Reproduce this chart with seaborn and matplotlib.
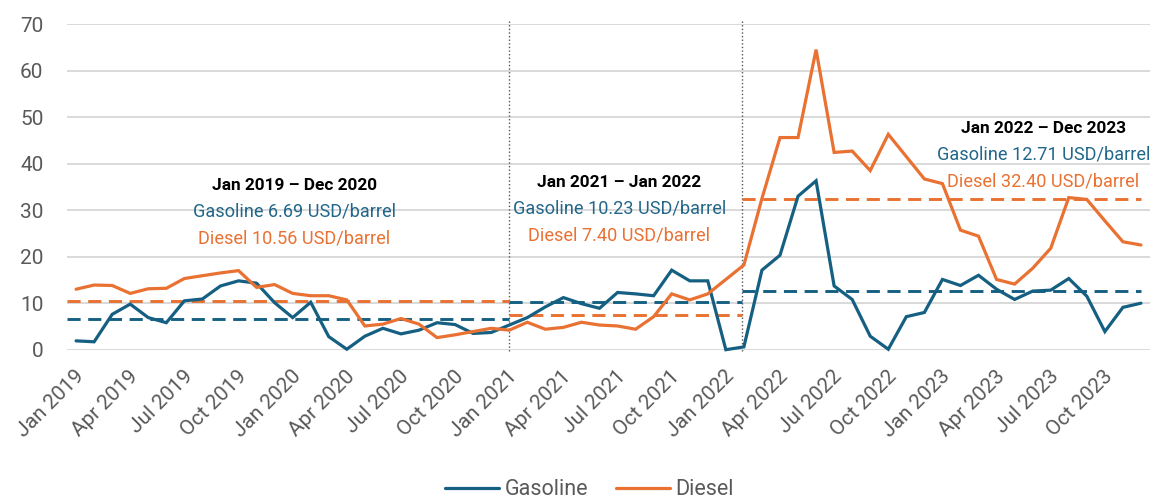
import numpy as np
import pandas as pd
import matplotlib
matplotlib.use("Agg")
import matplotlib.pyplot as plt
import matplotlib.transforms as mtransforms
import seaborn as sns

# ---------------- data ----------------
months = pd.date_range("2019-01-01", "2023-12-01", freq="MS")
month_labels = [d.strftime("%b %Y") for d in months]

gasoline = [1.9, 1.7, 7.6, 9.8, 6.9, 5.8, 10.5, 10.9, 13.7, 14.8, 14.3, 10.1,
            6.9, 10.2, 2.8, 0.1, 2.9, 4.6, 3.4, 4.2, 5.8, 5.4, 3.5, 3.7,
            5.3, 6.9, 9.2, 11.2, 9.9, 8.9, 12.3, 12.0, 11.6, 17.1, 14.8, 14.8,
            0.0, 0.6, 17.1, 20.3, 33.0, 36.3, 13.7, 10.8, 2.9, 0.1, 7.1, 8.0,
            15.1, 13.8, 16.0, 13.0, 10.8, 12.6, 12.8, 15.3, 11.5, 3.9, 9.1, 10.0]

diesel = [13.0, 13.9, 13.8, 12.1, 13.1, 13.2, 15.3, 15.9, 16.5, 17.0, 13.4, 14.0,
          12.1, 11.6, 11.6, 10.7, 5.1, 5.5, 6.7, 5.5, 2.6, 3.2, 3.9, 4.6,
          4.2, 5.9, 4.4, 4.8, 5.9, 5.3, 5.1, 4.4, 7.1, 12.0, 10.7, 12.0,
          15.1, 18.2, 32.5, 45.6, 45.6, 64.5, 42.4, 42.7, 38.5, 46.3, 41.5, 36.7,
          35.7, 25.7, 24.4, 15.1, 14.1, 17.5, 21.8, 32.7, 32.3, 27.7, 23.2, 22.5]

series_names = ["Gasoline", "Diesel"]

period_titles = ["Jan 2019 \u2013 Dec 2020", "Jan 2021 \u2013 Jan 2022", "Jan 2022 \u2013 Dec 2023"]
period_gas_avg = [6.69, 10.23, 12.71]
period_die_avg = [10.56, 7.40, 32.40]
# period bounds in month-index units
period_bounds = [(-0.5, 24.0), (24.0, 36.88), (36.88, 59.0)]
divider_positions = [24.0, 36.88]

# ---------------- style ----------------
GAS = "#156082"
DIE = "#E97132"
GAS_TXT = "#22678A"
GRID = "#D9D9D9"
TICK = "#595959"

sns.set_theme(style="white")
plt.rcParams["font.family"] = ["Roboto", "DejaVu Sans"]

df = pd.DataFrame({
    "idx": np.tile(np.arange(len(months)), 2),
    "value": gasoline + diesel,
    "series": np.repeat(series_names, len(months)),
})

fig = plt.figure(figsize=(11.56, 5.01), dpi=100)
ax = fig.add_axes([0.058, 0.302, 0.9368, 0.650])

sns.lineplot(data=df, x="idx", y="value", hue="series",
             palette={"Gasoline": GAS, "Diesel": DIE},
             linewidth=2.3, ax=ax, zorder=4, legend=True)
for ln in ax.lines:
    ln.set_clip_on(False)
    ln.set_solid_joinstyle("miter")

# average dashed lines
for (x0, x1), g, d in zip(period_bounds, period_gas_avg, period_die_avg):
    ax.hlines(d, x0, x1, colors=DIE, linestyles=(0, (4.5, 2.6)), linewidth=2.1, zorder=3)
    ax.hlines(g, x0, x1, colors=GAS, linestyles=(0, (4.5, 2.6)), linewidth=2.1, zorder=3)

# dotted dividers
for xv in divider_positions:
    ax.axvline(xv, ymin=-0.005, ymax=1.01, color="#555555", linestyle=(0, (1, 1.6)),
               linewidth=1.0, zorder=2, clip_on=False)

# annotations
ann_x = [12.1, 30.1, 53.6]
ann_y = [35.4, 36.0, 47.6]
for i in range(3):
    ax.text(ann_x[i], ann_y[i], period_titles[i], ha="center", va="center",
            fontsize=12.4, fontweight="bold", color="black", zorder=6)
    ax.text(ann_x[i], ann_y[i] - 5.7, f"Gasoline {period_gas_avg[i]:.2f} USD/barrel",
            ha="center", va="center", fontsize=13.1, color=GAS_TXT, zorder=6)
    ax.text(ann_x[i], ann_y[i] - 11.4, f"Diesel {period_die_avg[i]:.2f} USD/barrel",
            ha="center", va="center", fontsize=13.1, color=DIE, zorder=6)

# axes
ax.set_xlim(-0.5, 59.5)
ax.set_ylim(0, 70)
ax.set_yticks(np.arange(0, 71, 10))
ax.yaxis.grid(True, color=GRID, linewidth=1.4)
ax.set_axisbelow(True)
for s in ax.spines.values():
    s.set_visible(False)
ax.set_xlabel("")
ax.set_ylabel("")

tick_pos = np.arange(0, len(months), 3)
ax.set_xticks(tick_pos)
ax.set_xticklabels([month_labels[i] for i in tick_pos], rotation=45,
                   ha="right", va="center", rotation_mode="anchor")
ax.tick_params(axis="x", length=0, pad=17, labelsize=15, labelcolor=TICK)
ax.tick_params(axis="y", length=0, pad=17, labelsize=15, labelcolor=TICK)
offset = mtransforms.ScaledTranslation(5 / 100, 0, fig.dpi_scale_trans)
for lab in ax.get_xticklabels():
    lab.set_transform(lab.get_transform() + offset)

# legend
handles, labels = ax.get_legend_handles_labels()
ax.legend_.remove()
fig.legend(handles, labels, loc="center", bbox_to_anchor=(0.51, 0.022),
           ncol=2, frameon=False, fontsize=15.5, handlelength=2.5,
           handletextpad=0.25, columnspacing=1.3, labelcolor=TICK)
for h in fig.legends[0].get_lines():
    h.set_linewidth(2.3)

fig.savefig("out.png", dpi=100)
